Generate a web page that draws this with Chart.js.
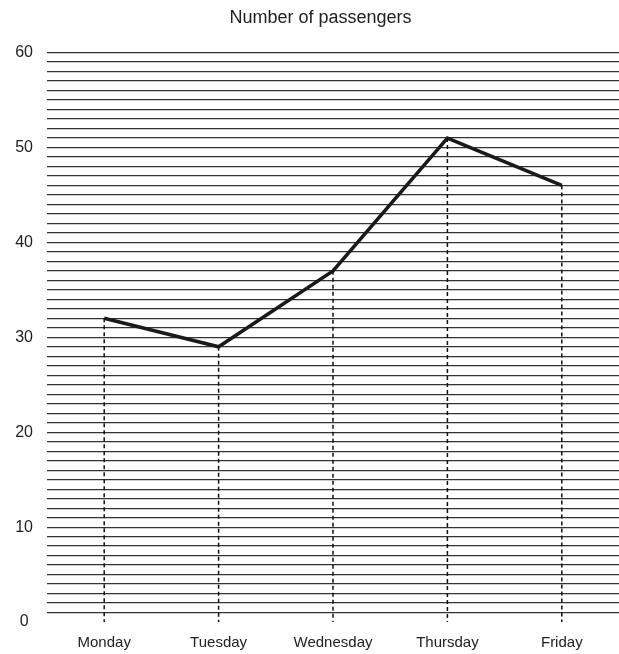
<!DOCTYPE html>
<html>
<head>
<meta charset="utf-8">
<script src="https://cdn.jsdelivr.net/npm/chart.js@4"></script>
<style>
  body { margin: 0; background: #fff; }
  #chart { display: block; }
</style>
</head>
<body>
<canvas id="chart" width="619" height="654"></canvas>
<script>
const days = ["Monday", "Tuesday", "Wednesday", "Thursday", "Friday"];
const passengers = [32, 29, 37, 51, 46];
const yMax = 60;

// dashed lines from each point down to the x axis
const dropLines = {
  id: "dropLines",
  afterDatasetsDraw(chart) {
    const ctx = chart.ctx;
    const x = chart.scales.x;
    const y = chart.scales.y;
    ctx.save();
    ctx.strokeStyle = "#111";
    ctx.lineWidth = 1.5;
    ctx.setLineDash([4, 3]);
    passengers.forEach((v, i) => {
      const px = x.getPixelForValue(i);
      ctx.beginPath();
      ctx.moveTo(px, y.getPixelForValue(v));
      ctx.lineTo(px, y.getPixelForValue(0));
      ctx.stroke();
    });
    ctx.restore();
  },
};

const ctx = document.getElementById("chart").getContext("2d");
const chart = new Chart(ctx, {
  type: "line",
  data: {
    labels: days,
    datasets: [
      {
        label: "Number of passengers",
        data: passengers,
        borderColor: "#1a1a1a",
        borderWidth: 3.5,
        pointRadius: 0,
        tension: 0,
        fill: false,
      },
    ],
  },
  options: {
    responsive: false,
    animation: false,
    layout: { padding: { top: 0, bottom: 0, left: 0, right: -22 } },
    plugins: {
      legend: { display: false },
      tooltip: { enabled: false },
      title: {
        display: true,
        text: "Number of passengers",
        color: "#222",
        font: { family: "Liberation Sans", size: 18, weight: "normal" },
        padding: { top: 7, bottom: 24 },
      },
    },
    scales: {
      x: {
        offset: true,
        grid: { display: false },
        border: { display: false },
        ticks: {
          color: "#222",
          font: { family: "Liberation Sans", size: 15 },
          padding: 4,
        },
        afterFit: (s) => { s.height = 32; },
      },
      y: {
        min: 0,
        max: yMax,
        border: { display: false },
        grid: {
          drawTicks: false,
          lineWidth: 1.2,
          color: (c) => (c.tick && c.tick.value === 0 ? "rgba(0,0,0,0)" : "#333"),
        },
        ticks: {
          stepSize: 1,
          autoSkip: false,
          padding: 14,
          crossAlign: "center",
          color: "#222",
          font: { family: "Liberation Sans", size: 16 },
          callback: (v) => (v % 10 === 0 ? v : ""),
        },
        afterFit: (s) => { s.width = 47; },
      },
    },
  },
  plugins: [dropLines],
});
</script>
</body>
</html>
